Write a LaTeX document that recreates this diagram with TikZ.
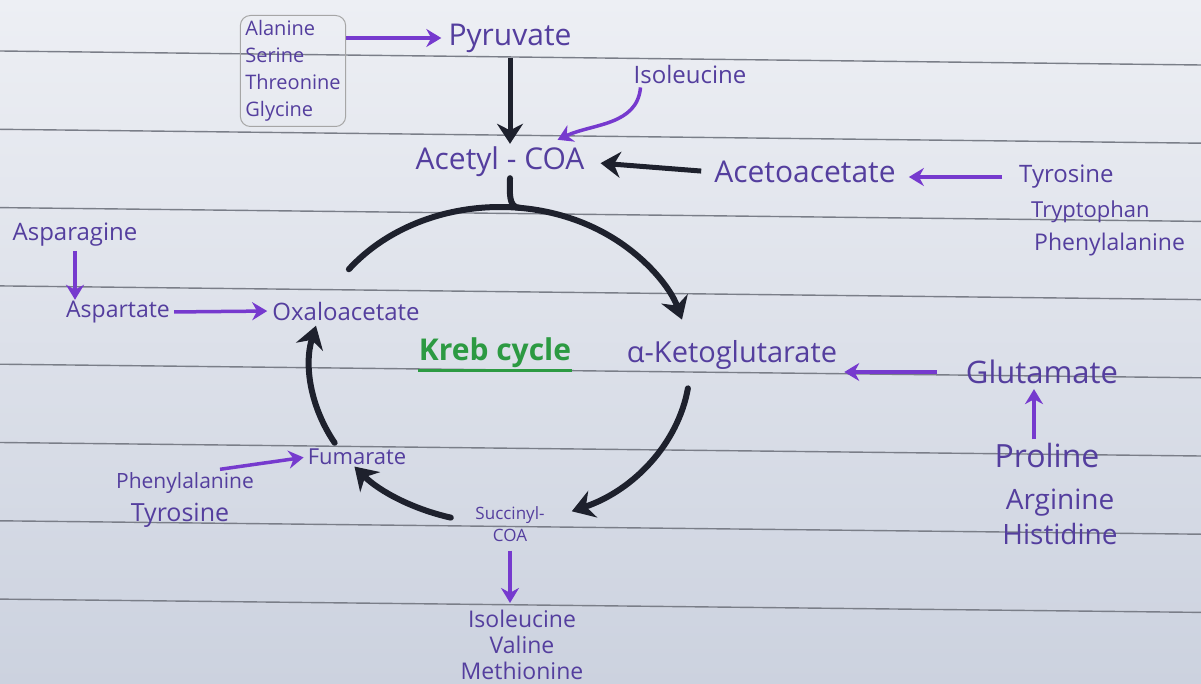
\documentclass[tikz,border=0pt]{standalone}
\usepackage{fontspec}
\setmainfont{Open Sans}
\usepackage{tikz}
\usetikzlibrary{arrows.meta,calc,positioning}

\definecolor{paperhi}{RGB}{237,239,244}
\definecolor{paperlo}{RGB}{204,210,223}
\definecolor{ruling}{RGB}{122,126,136}
\definecolor{inkpurple}{RGB}{84,62,158}
\definecolor{arrpurple}{RGB}{118,58,206}
\definecolor{inkblack}{RGB}{30,33,45}
\definecolor{inkgreen}{RGB}{44,154,66}
\newcommand{\inksize}[2]{\fontsize{#1}{#2}\selectfont}

\begin{document}
\begin{tikzpicture}[x=1pt,y=1pt,
  lab/.style={text=inkpurple,inner sep=1pt},
  purarr/.style={draw=arrpurple,line width=3.5pt,-{Stealth[length=15pt,width=18pt]}},
  blkarr/.style={draw=inkblack,line width=5pt,-{Stealth[length=20pt,width=26pt]}},
  cycarr/.style={draw=inkblack,line width=6pt,line cap=round,-{Stealth[length=22pt,width=28pt]}}]
 % ruled paper
 \shade[top color=paperhi,bottom color=paperlo] (0,0) rectangle (1201,-684);
 \useasboundingbox (0,0) rectangle (1201,-684);
 \clip (0,0) rectangle (1201,-684);
 \foreach \i in {0,...,7}
  \draw[ruling,line width=1.4pt] (0,{-51-78.3*\i}) -- (1201,{-65-78.2*\i});

 % top: pyruvate and acetyl-CoA
 \node[lab,font=\inksize{20}{27},align=left,draw=gray!70,rounded corners=10pt,line width=1pt,inner sep=5pt]
   (aln) at (293,-71) {Alanine\\Serine\\Threonine\\Glycine};
 \node[lab,font=\inksize{30}{30}] (pyr) at (510,-38) {Pyruvate};
 \node[lab,font=\inksize{24}{24}] (ile) at (690,-75) {Isoleucine};
 \node[lab,font=\inksize{30}{30}] (acoa) at (500,-162) {Acetyl - COA};
 \node[lab,font=\inksize{30}{30}] (acac) at (805,-172) {Acetoacetate};
 \node[lab,font=\inksize{24}{24},anchor=west] (tyr) at (1018,-177) {Tyrosine};
 \node[lab,font=\inksize{22}{22},anchor=west] (trp) at (1030,-212) {Tryptophan};
 \node[lab,font=\inksize{23}{23},anchor=west] (phe) at (1033,-245) {Phenylalanine};
 \draw[purarr,shorten >=6pt] (aln.east |- pyr) -- (pyr.west);
 \draw[blkarr,shorten <=4pt,shorten >=2pt] (pyr.south) -- (pyr.south |- acoa.north);
 \draw[purarr] ($(ile.south west)+(8,-2)$) to[out=-95,in=25] ($(acoa.north east)+(-28,6)$);
 \draw[blkarr,shorten <=12pt,shorten >=15pt] (acac.west) -- (acoa.east);
 \draw[purarr,shorten <=16pt,shorten >=12pt] (tyr.west) -- (tyr.west -| acac.east);

 % left side
 \node[lab,font=\inksize{24}{24}] (asn) at (75,-235) {Asparagine};
 \node[lab,font=\inksize{23}{23}] (asp) at (118,-312) {Aspartate};
 \node[lab,font=\inksize{24}{24}] (oaa) at (346,-311) {Oxaloacetate};
 \node[lab,font=\inksize{22}{22}] (fum) at (357,-457) {Fumarate};
 \node[lab,font=\inksize{21}{21}] (phel) at (185,-483) {Phenylalanine};
 \node[lab,font=\inksize{25}{25}] (tyrl) at (180,-515) {Tyrosine};
 \draw[purarr,shorten <=3pt] (asn.south) -- (asn.south |- asp.north);
 \draw[purarr,shorten <=3pt,shorten >=4pt] (asp.east) -- (oaa.west);
 \draw[purarr,shorten >=3pt] ($(phel.north east)+(-35,2)$) -- (fum.west);

 % right side
 \node[lab,font=\inksize{29}{29}] (akg) at (732,-355) {α-Ketoglutarate};
 \node[lab,font=\inksize{31}{31}] (glu) at (1042,-372) {Glutamate};
 \node[lab,font=\inksize{32}{32}] (pro) at (1047,-455) {Proline};
 \node[lab,font=\inksize{28}{35},align=center] (argh) at (1060,-517) {Arginine\\Histidine};
 \coordinate (proup) at ([xshift=-13pt]pro.north);
 \draw[purarr,shorten <=2pt,shorten >=4pt] (proup) -- (proup |- glu.south);
 \draw[purarr,shorten <=28pt,shorten >=6pt] (glu.west) -- (glu.west -| akg.east);

 % bottom
 \node[lab,font=\inksize{17}{22},align=center] (succ) at (510,-524) {Succinyl-\\COA};
 \node[lab,font=\inksize{23}{26},align=center] (ivm) at (522,-645) {Isoleucine\\Valine\\Methionine};
 \draw[purarr,shorten <=8pt,shorten >=6pt] (succ.south) -- (succ.south |- ivm.north);

 % the cycle
 \node[text=inkgreen,font=\inksize{30}{30}\bfseries,inner sep=1pt] (krebs) at (495,-353) {Kreb cycle};
 \draw[inkgreen,line width=3pt] ($(krebs.south west)+(0,-1)$) -- ($(krebs.south east)+(0,-1)$);
 \coordinate (cc) at (500,-365);
 \draw[cycarr] ($(cc)+(142.7:190 and 158)$) arc[start angle=142.7,end angle=16.7,x radius=190,y radius=158];
 \draw[cycarr] ($(cc)+(-8.5:190 and 158)$) arc[start angle=-8.5,end angle=-67.8,x radius=190,y radius=158];
 \draw[cycarr] ($(cc)+(-105:190 and 158)$) arc[start angle=-105,end angle=-140,x radius=190,y radius=158];
 \draw[cycarr] ($(cc)+(209.5:190 and 158)$) arc[start angle=209.5,end angle=165.6,x radius=190,y radius=158];
 \draw[inkblack,line width=6pt,line cap=round] ($(acoa.south)+(10,0)$) to[out=-90,in=180] ($(cc)+(84:190 and 158)$);
\end{tikzpicture}
\end{document}
